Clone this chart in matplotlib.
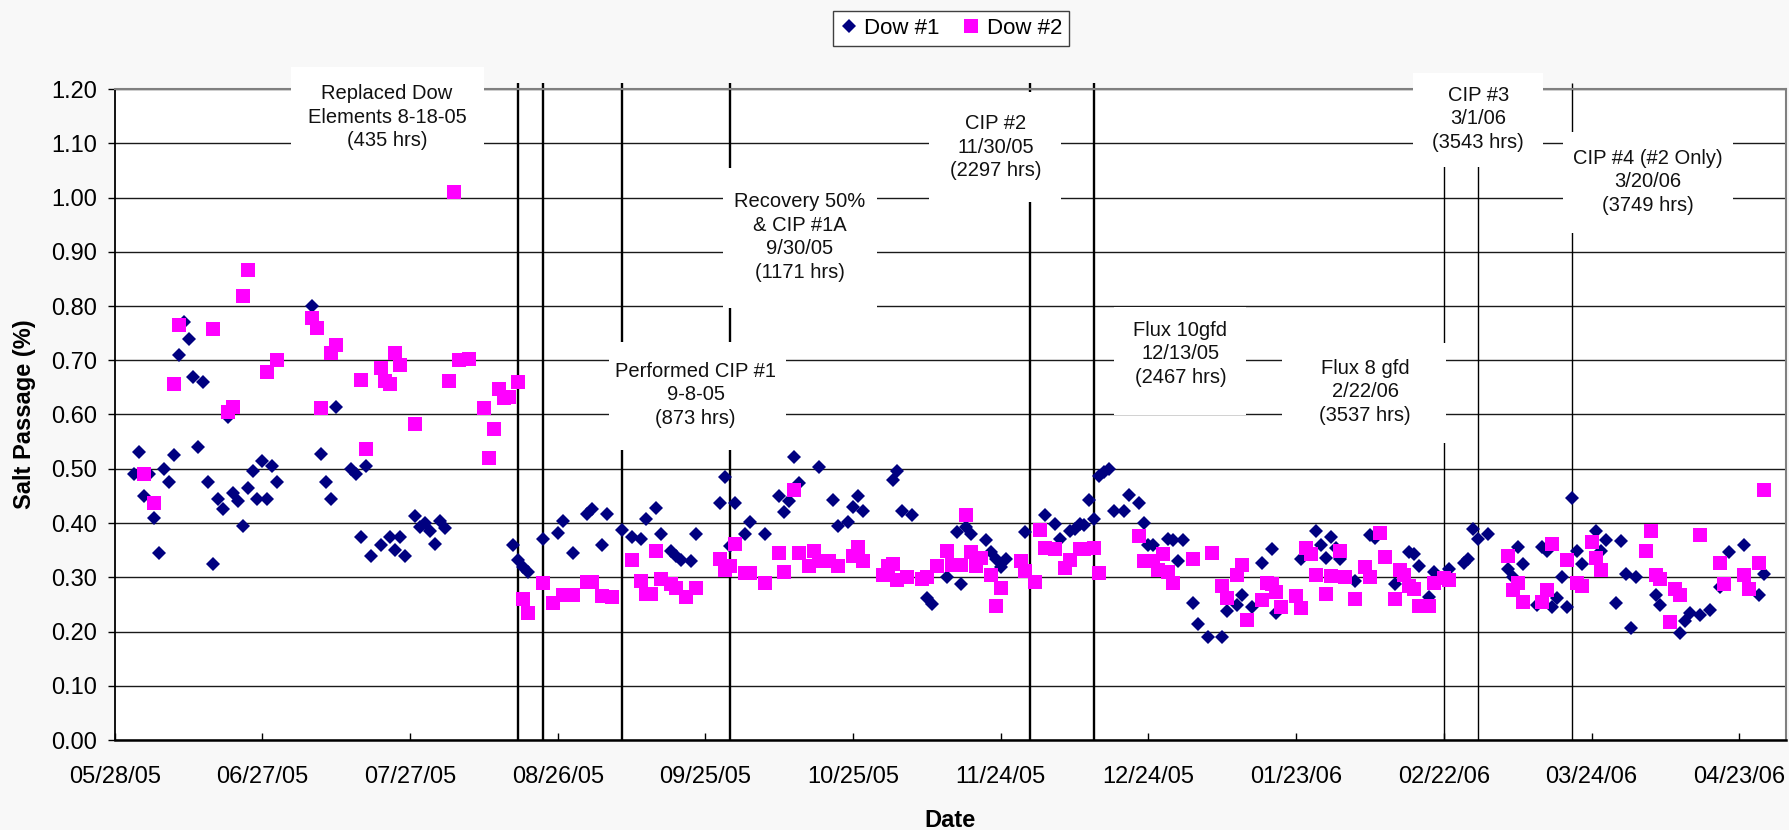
import matplotlib
matplotlib.use("Agg")
import matplotlib.pyplot as plt
import matplotlib.dates as mdates
from matplotlib.patches import Rectangle
import numpy as np
import pandas as pd

START = pd.Timestamp("2005-05-28")

# Days since 5/28/05 and salt passage (%) for each element
dow1_day = [4, 5, 6, 7, 8, 9, 10, 11, 12, 13, 14, 15, 16, 17, 18, 19, 20, 21, 22, 23,
            24, 25, 26, 27, 28, 29, 30, 31, 32, 33,
            40, 42, 43, 44, 45, 48, 49, 50, 51, 52, 54, 56, 57, 58, 59, 61, 62, 63, 64, 65, 66, 67,
            81, 82, 83, 84, 87, 90, 91, 93, 96, 97, 99, 100, 103, 105, 107, 108, 110, 111, 113,
            114, 115, 117, 118,
            123, 124, 125, 126, 128, 129, 132, 135, 136, 137, 138, 139, 143, 146, 147, 149, 150,
            151, 152, 158, 159, 160, 162,
            165, 166, 169, 171, 172, 173, 174, 177, 178, 179, 180, 181, 185, 189, 191, 192, 194,
            195, 196, 197, 198, 199, 200, 201, 202, 203, 205, 206, 208, 209, 210, 211, 214, 215,
            216, 217,
            219, 220, 222, 225, 226, 228, 229, 231, 233, 235, 236, 241, 244, 245, 246, 247, 248,
            249, 252, 255, 256, 260, 263, 264, 265, 267, 268, 271, 274, 275, 276, 277, 279,
            283, 284, 285, 286, 289, 290, 291, 292, 293, 294, 295, 296, 297, 298, 301, 302, 303,
            305, 306, 307, 308, 309, 313, 314, 318, 319, 320, 322, 324, 326, 328, 331, 334, 335]
dow1_val = [0.49, 0.53, 0.45, 0.49, 0.41, 0.345, 0.50, 0.475, 0.525, 0.71, 0.77, 0.74, 0.67,
            0.54, 0.66, 0.475, 0.325, 0.445, 0.425, 0.595, 0.455, 0.44, 0.395, 0.465, 0.495,
            0.445, 0.515, 0.445, 0.505, 0.475,
            0.80, 0.527, 0.475, 0.445, 0.613, 0.50, 0.49, 0.375, 0.505, 0.34, 0.36, 0.375, 0.35,
            0.375, 0.34, 0.413, 0.393, 0.40, 0.385, 0.362, 0.403, 0.39,
            0.36, 0.332, 0.318, 0.31, 0.37, 0.382, 0.404, 0.345, 0.416, 0.425, 0.36, 0.417,
            0.388, 0.374, 0.37, 0.408, 0.428, 0.38, 0.348, 0.339, 0.332, 0.33, 0.38,
            0.437, 0.485, 0.358, 0.437, 0.38, 0.402, 0.38, 0.449, 0.42, 0.441, 0.522, 0.473,
            0.503, 0.443, 0.394, 0.402, 0.429, 0.449, 0.423, 0.48, 0.496, 0.422, 0.414,
            0.261, 0.25, 0.30, 0.383, 0.287, 0.392, 0.38, 0.368, 0.346, 0.333, 0.318, 0.333,
            0.383, 0.414, 0.398, 0.37, 0.386, 0.389, 0.398, 0.396, 0.442, 0.408, 0.486, 0.494,
            0.50, 0.423, 0.422, 0.451, 0.437, 0.40, 0.359, 0.359, 0.37, 0.369, 0.33, 0.369,
            0.252, 0.214, 0.19, 0.19, 0.237, 0.249, 0.268, 0.246, 0.327, 0.352, 0.235, 0.333,
            0.386, 0.359, 0.335, 0.375, 0.353, 0.333, 0.293, 0.377, 0.373, 0.287, 0.346, 0.343,
            0.32, 0.264, 0.31, 0.315, 0.326, 0.333, 0.389, 0.37, 0.379,
            0.315, 0.30, 0.355, 0.324, 0.249, 0.355, 0.348, 0.246, 0.261, 0.30, 0.246, 0.446,
            0.349, 0.325, 0.385, 0.348, 0.369, 0.252, 0.366, 0.306, 0.206, 0.30, 0.268, 0.249,
            0.198, 0.22, 0.235, 0.23, 0.24, 0.282, 0.346, 0.36, 0.268, 0.306]

dow2_day = [6, 8, 12, 13, 20, 23, 24, 26, 27, 31, 33, 40, 41, 42, 44, 45, 50, 51, 54, 55, 56,
            57, 58, 61, 68, 69, 70, 72, 75, 76, 77, 78, 79, 80, 82,
            83, 84, 87, 89, 91, 93, 96, 97, 99, 101, 105, 107, 108, 109, 110, 111, 113, 114, 116,
            118,
            123, 124, 125, 126, 128, 129, 132, 135, 136, 138, 139, 141, 142, 143, 145, 147, 150,
            151, 152, 156, 157, 158, 159, 161, 164, 165, 167,
            169, 170, 172, 173, 174, 175, 176, 178, 179, 180, 184, 185, 187, 188, 189, 191, 193,
            194, 196, 197, 199, 200, 208, 209, 211, 212, 213, 214, 215,
            219, 223, 225, 226, 228, 229, 230, 233, 234, 235, 236, 237, 240, 241, 242, 243, 244,
            246, 247, 249, 250, 252, 254, 255, 257, 258, 260, 261, 262, 263, 264, 265, 267, 268,
            270, 271,
            283, 284, 285, 286, 290, 291, 292, 295, 297, 298, 300, 301, 302, 311, 312, 313, 314,
            316, 317, 318, 322, 326, 327, 331, 332, 334, 335]
dow2_val = [0.49, 0.436, 0.656, 0.765, 0.758, 0.605, 0.614, 0.818, 0.867, 0.678, 0.70, 0.778,
            0.76, 0.612, 0.713, 0.728, 0.664, 0.537, 0.685, 0.662, 0.657, 0.713, 0.692, 0.583,
            0.661, 1.01, 0.70, 0.703, 0.612, 0.519, 0.573, 0.647, 0.63, 0.633, 0.659,
            0.259, 0.235, 0.29, 0.253, 0.268, 0.268, 0.292, 0.292, 0.265, 0.263, 0.332, 0.294,
            0.27, 0.27, 0.348, 0.296, 0.288, 0.28, 0.263, 0.281,
            0.334, 0.313, 0.32, 0.362, 0.307, 0.307, 0.289, 0.345, 0.31, 0.46, 0.345, 0.32,
            0.348, 0.33, 0.33, 0.32, 0.34, 0.355, 0.33, 0.304, 0.32, 0.325, 0.295, 0.30, 0.296,
            0.30, 0.32,
            0.348, 0.322, 0.322, 0.415, 0.347, 0.32, 0.336, 0.305, 0.247, 0.28, 0.33, 0.312,
            0.292, 0.388, 0.354, 0.352, 0.317, 0.332, 0.352, 0.352, 0.354, 0.308, 0.376, 0.33,
            0.33, 0.313, 0.342, 0.31, 0.29,
            0.334, 0.345, 0.283, 0.262, 0.304, 0.322, 0.222, 0.258, 0.29, 0.288, 0.273, 0.246,
            0.266, 0.243, 0.354, 0.342, 0.304, 0.27, 0.302, 0.348, 0.30, 0.259, 0.318, 0.30,
            0.382, 0.338, 0.259, 0.313, 0.305, 0.283, 0.278, 0.247, 0.247, 0.29, 0.298, 0.295,
            0.339, 0.276, 0.29, 0.255, 0.255, 0.277, 0.362, 0.332, 0.29, 0.283, 0.365, 0.336,
            0.313, 0.348, 0.385, 0.304, 0.297, 0.218, 0.278, 0.268, 0.378, 0.327, 0.288, 0.304,
            0.278, 0.327, 0.46]

# Operating events (days since start); the first six are drawn heavier
event_day = [82, 87, 103, 125, 186, 199, 270, 277, 296]
event_heavy = [True, True, True, True, True, True, False, False, False]

tick_labels = ["05/28/05", "06/27/05", "07/27/05", "08/26/05", "09/25/05", "10/25/05",
               "11/24/05", "12/24/05", "01/23/06", "02/22/06", "03/24/06", "04/23/06"]

# Event notes: text, text centre (day, value), box extent (day0, day1, value0, value1)
notes = [
    ("Replaced Dow\nElements 8-18-05\n(435 hrs)", 55.3, 1.148, 35.8, 75.0, 1.075, 1.241),
    ("CIP #2\n11/30/05\n(2297 hrs)", 179.0, 1.093, 165.5, 192.3, 0.992, 1.195),
    ("Recovery 50%\n& CIP #1A\n9/30/05\n(1171 hrs)", 139.2, 0.927, 123.5, 154.8, 0.796, 1.054),
    ("Performed CIP #1\n9-8-05\n(873 hrs)", 118.0, 0.636, 100.4, 136.3, 0.535, 0.733),
    ("CIP #3\n3/1/06\n(3543 hrs)", 277.0, 1.145, 263.8, 290.2, 1.056, 1.230),
    ("CIP #4 (#2 Only)\n3/20/06\n(3749 hrs)", 311.5, 1.029, 294.1, 328.8, 0.935, 1.121),
    ("Flux 10gfd\n12/13/05\n(2467 hrs)", 216.5, 0.712, 202.9, 229.9, 0.599, 0.798),
    ("Flux 8 gfd\n2/22/06\n(3537 hrs)", 254.0, 0.642, 237.2, 270.5, 0.548, 0.732),
]

plt.rcParams["font.family"] = ["Liberation Sans", "DejaVu Sans"]


def day_num(d):
    return mdates.date2num(START + pd.Timedelta(days=float(d)))


W, H = 1789, 830
fig = plt.figure(figsize=(W / 100, H / 100), dpi=100, facecolor="#f8f8f8")
ax = fig.add_axes([114.7 / W, (H - 740) / H, (1786 - 114.7) / W, (740 - 89) / H])
ax.set_facecolor("white")

x1 = [day_num(d) for d in dow1_day]
x2 = [day_num(d) for d in dow2_day]

ax.set_xlim(day_num(0), day_num(339.5))
ax.set_ylim(0, 1.2)

# Horizontal grid
ax.set_yticks(np.arange(0, 1.2001, 0.1))
ax.yaxis.set_major_formatter(matplotlib.ticker.FormatStrFormatter("%.2f"))
ax.grid(axis="y", color="#1a1a1a", linewidth=1.0, zorder=0.5)
ax.set_axisbelow(True)

# Date axis every 30 days
ax.set_xticks([day_num(30 * i) for i in range(len(tick_labels))])
ax.set_xticklabels(tick_labels)
ax.tick_params(axis="x", direction="in", length=5, width=1, pad=19, labelsize=17)
ax.tick_params(axis="y", direction="out", length=5, width=1, pad=8, labelsize=17)

for sp in ("top", "right"):
    ax.spines[sp].set_color("#808080")
    ax.spines[sp].set_linewidth(1.5)
ax.spines["left"].set_color("black")
ax.spines["left"].set_linewidth(1.3)
ax.spines["bottom"].set_color("black")
ax.spines["bottom"].set_linewidth(1.8)

# Event markers: vertical lines rising slightly above the plot
for d, heavy in zip(event_day, event_heavy):
    ax.plot([day_num(d), day_num(d)], [0, 1.211], color="black",
            linewidth=1.7 if heavy else 1.0, zorder=2, clip_on=False,
            solid_capstyle="butt")

# White note boxes that mask the grid and event lines
for text, tx, ty, bx0, bx1, by0, by1 in notes:
    r = Rectangle((day_num(bx0), by0), day_num(bx1) - day_num(bx0), by1 - by0,
                  facecolor="white", edgecolor="none", zorder=3)
    ax.add_patch(r)
    r.set_clip_on(False)
    ax.text(day_num(tx), ty, text, ha="center", va="center", fontsize=14.5,
            linespacing=1.3, color="#111111", zorder=3.5, clip_on=False)

h1, = ax.plot(x1, dow1_val, linestyle="none", marker="D", markersize=7.0,
              color="#000080", markeredgewidth=0, zorder=4, label="Dow #1")
h2, = ax.plot(x2, dow2_val, linestyle="none", marker="s", markersize=9.6,
              color="#ff00ff", markeredgewidth=0, zorder=5, label="Dow #2")

fig.text(25 / W, 1 - 414.5 / H, "Salt Passage (%)", rotation=90, ha="center",
         va="center", fontsize=17, fontweight="bold")
fig.text(950 / W, 1 - 820 / H, "Date", ha="center", va="center", fontsize=17,
         fontweight="bold")

leg = fig.legend(handles=[h1, h2], labels=["Dow #1", "Dow #2"], loc="center",
                 bbox_to_anchor=(951 / W, 1 - 28.5 / H), ncol=2, frameon=True,
                 fancybox=False, edgecolor="#404040", facecolor="white", fontsize=16,
                 handlelength=0.8, handletextpad=0.3, columnspacing=1.0, borderpad=0.3,
                 borderaxespad=0, framealpha=1)
leg.get_frame().set_linewidth(1.0)

fig.savefig("out.png", dpi=100, facecolor=fig.get_facecolor())
